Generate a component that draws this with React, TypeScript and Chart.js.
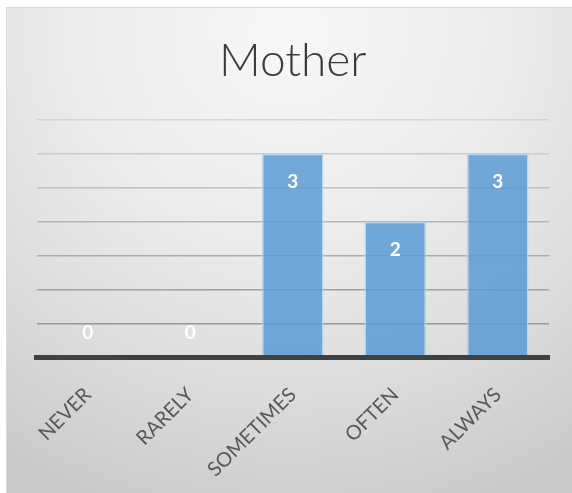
import React, { useEffect, useRef } from "react";
import { Chart, registerables } from "chart.js";

Chart.register(...registerables);

const categories: string[] = ["NEVER", "RARELY", "SOMETIMES", "OFTEN", "ALWAYS"];
const counts: number[] = [0, 0, 3, 2, 3];
const chartTitle = "Mother";
const yMax = 3.5;
const yStep = 0.5;

const FONT = "Lato, 'Open Sans', sans-serif";

// grid lines get darker toward the bottom, following the shaded backdrop
function gridColor(value: number): string {
  const t = Math.max(0, Math.min(1, value / yMax));
  const c = Math.round(0x8e + (0xd4 - 0x8e) * t);
  return `rgb(${c},${c},${c})`;
}

const valueLabels = {
  id: "valueLabels",
  afterDatasetsDraw(chart: Chart) {
    const { ctx } = chart;
    const meta = chart.getDatasetMeta(0);
    const yScale = chart.scales.y;
    const base = yScale.getPixelForValue(0);
    ctx.save();
    ctx.fillStyle = "#ffffff";
    ctx.font = `bold 19px ${FONT}`;
    ctx.textAlign = "center";
    ctx.textBaseline = "middle";
    meta.data.forEach((bar: any, i: number) => {
      const v = counts[i];
      const y = v === 0 ? base - 25 : bar.y + 28.5;
      ctx.fillText(String(v), bar.x, y);
    });
    ctx.restore();
  },
};

export default function App() {
  const canvasRef = useRef<HTMLCanvasElement>(null);

  useEffect(() => {
    if (!canvasRef.current) return;
    const chart = new Chart(canvasRef.current, {
      type: "bar",
      data: {
        labels: categories,
        datasets: [
          {
            data: counts,
            backgroundColor: "rgba(91,155,213,0.85)",
            borderColor: "rgba(180,212,240,0.9)",
            borderWidth: 1.5,
            barPercentage: 0.6,
            categoryPercentage: 1,
          },
        ],
      },
      options: {
        responsive: false,
        animation: false,
        devicePixelRatio: 1,
        layout: { padding: { left: 29.5, right: 23, top: 0, bottom: 5.5 } },
        plugins: {
          legend: { display: false },
          tooltip: { enabled: false },
          title: {
            display: true,
            text: chartTitle,
            color: "#3a3a3a",
            font: { family: FONT, size: 46, weight: "300", lineHeight: 1.2 },
            padding: { top: 26, bottom: 30.5 },
          },
        },
        scales: {
          x: {
            grid: { display: false },
            border: { display: true, color: "#404040", width: 5, z: 1 },
            ticks: {
              color: "#595959",
              font: { family: FONT, size: 20 },
              minRotation: 45,
              maxRotation: 45,
              autoSkip: false,
              padding: 17,
            },
          },
          y: {
            min: 0,
            max: yMax,
            ticks: { display: false, stepSize: yStep },
            border: { display: false },
            grid: {
              drawTicks: false,
              lineWidth: 1.5,
              color: (c: any) => gridColor(c.tick ? c.tick.value : 0),
            },
          },
        },
      },
      plugins: [valueLabels],
    });
    return () => chart.destroy();
  }, []);

  return (
    <div
      style={{
        position: "fixed",
        left: 6,
        top: 7,
        width: 566,
        height: 486,
        boxSizing: "border-box",
        borderLeft: "1px solid #d9d9d9",
        borderTop: "1px solid #d9d9d9",
        background:
          "radial-gradient(ellipse 95% 105% at 50% 5%, #f7f7f7 0%, #ececec 40%, #dcdcdc 70%, #c9c9c9 100%)",
        overflow: "hidden",
      }}
    >
      <canvas
        ref={canvasRef}
        width={565}
        height={496}
        style={{ position: "absolute", left: 0, top: 0, display: "block" }}
      />
    </div>
  );
}
